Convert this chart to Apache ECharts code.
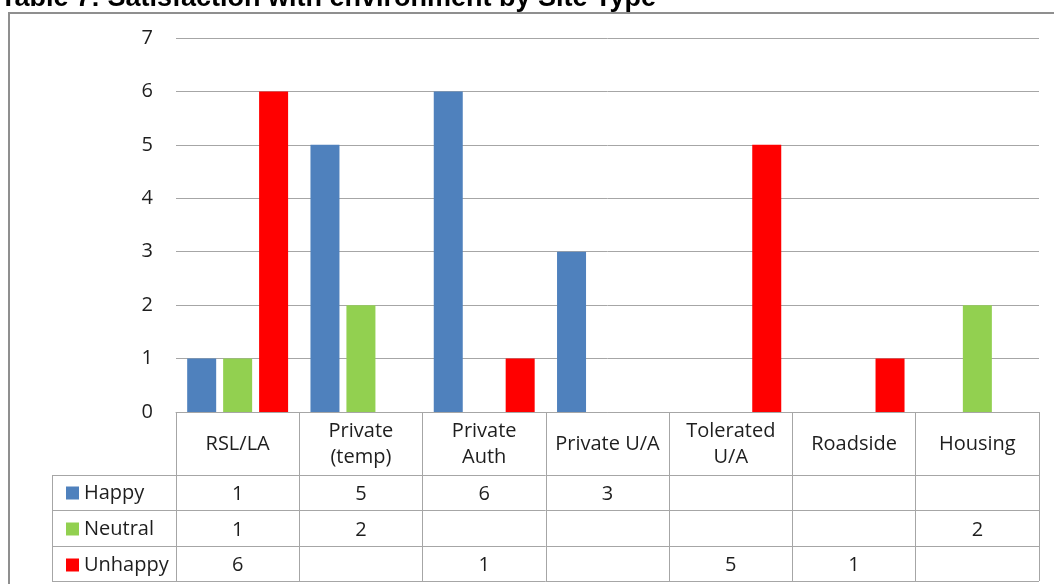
<!DOCTYPE html>
<html>
<head>
<meta charset="utf-8">
<script src="https://cdn.jsdelivr.net/npm/echarts@6/dist/echarts.min.js"></script>
<style>
  html, body { margin: 0; padding: 0; background: #fff; }
  #main { width: 1054px; height: 584px; }
</style>
</head>
<body>
<div id="main"></div>
<script>
// data
var siteTypes = ['RSL/LA', 'Private\n(temp)', 'Private\nAuth', 'Private U/A', 'Tolerated\nU/A', 'Roadside', 'Housing'];
var happy   = [1, 5, 6, 3, null, null, null];
var neutral = [1, 2, null, null, null, null, 2];
var unhappy = [6, null, 1, null, 5, 1, null];
var seriesNames = ['Happy', 'Neutral', 'Unhappy'];
var yTicks = [0, 1, 2, 3, 4, 5, 6, 7];

var font = '"Open Sans", "Noto Sans", sans-serif';
var textColor = '#1e1e1e';
var lineColor = '#a6a6a6';

// layout of the plot + data table
var gridLeft = 176, gridRight = 1039, gridTop = 38, axisY = 412;
var rowLines = [475, 510, 546, 581];   // horizontal table lines under the header
var tableLeft = 52;

var chartDom = document.getElementById('main');
var myChart = echarts.init(chartDom);
var option;

option = {
    animation: false,
    title: {
        text: 'Table 7: Satisfaction with environment by Site Type',
        left: 0,
        top: -15,
        padding: 0,
        textStyle: {
            fontFamily: 'Liberation Sans, Arial, sans-serif',
            fontWeight: 'bold',
            fontSize: 27,
            color: '#000'
        }
    },
    legend: {
        orient: 'vertical',
        left: 61,
        top: 478,
        itemWidth: 13,
        itemHeight: 13,
        itemGap: 16,
        icon: 'rect',
        selectedMode: false,
        data: seriesNames,
        textStyle: { fontFamily: font, fontSize: 20, color: textColor, lineHeight: 20, padding: [0, 0, 0, 0] }
    },
    grid: {
        left: gridLeft,
        right: 1054 - gridRight,
        top: gridTop,
        bottom: 584 - axisY,
        containLabel: false
    },
    xAxis: {
        type: 'category',
        data: siteTypes,
        axisLine: { show: true, lineStyle: { color: lineColor, width: 1 } },
        axisTick: {
            show: true,
            alignWithLabel: false,
            length: rowLines[rowLines.length - 1] - axisY,
            lineStyle: { color: lineColor, width: 1 }
        },
        axisLabel: {
            interval: 0,
            margin: 32,
            verticalAlign: 'middle',
            fontFamily: font,
            fontSize: 20,
            lineHeight: 26,
            color: textColor
        }
    },
    yAxis: {
        type: 'value',
        min: yTicks[0],
        max: yTicks[yTicks.length - 1],
        interval: 1,
        axisLine: { show: false },
        axisTick: { show: false },
        splitLine: { lineStyle: { color: lineColor, width: 1 } },
        axisLabel: { margin: 23, fontFamily: font, fontSize: 20, color: textColor }
    },
    series: [
        { name: seriesNames[0], type: 'bar', data: happy,   barWidth: 29, barGap: '24%', itemStyle: { color: '#4f81bd' } },
        { name: seriesNames[1], type: 'bar', data: neutral, barWidth: 29, barGap: '24%', itemStyle: { color: '#92d050' } },
        { name: seriesNames[2], type: 'bar', data: unhappy, barWidth: 29, barGap: '24%', itemStyle: { color: '#ff0000' } }
    ]
};

myChart.setOption(option);

// data table: lines + values under the bars, positioned from the category axis
var rows = [happy, neutral, unhappy];
var g = [];
// outer frame of the whole chart
g.push({ type: 'rect', shape: { x: 9, y: 13, width: 1200, height: 700 }, style: { fill: null, stroke: '#8f8f8f', lineWidth: 2 }, silent: true });
rowLines.forEach(function (y) {
    g.push({ type: 'line', shape: { x1: tableLeft, y1: y + 0.5, x2: gridRight, y2: y + 0.5 }, style: { stroke: lineColor, lineWidth: 1 }, silent: true });
});
g.push({ type: 'line', shape: { x1: tableLeft + 0.5, y1: rowLines[0], x2: tableLeft + 0.5, y2: rowLines[rowLines.length - 1] }, style: { stroke: lineColor, lineWidth: 1 }, silent: true });
rows.forEach(function (vals, r) {
    var cy = (rowLines[r] + rowLines[r + 1]) / 2 + 2;
    vals.forEach(function (v, i) {
        if (v == null) return;
        var cx = myChart.convertToPixel({ xAxisIndex: 0 }, i);
        g.push({
            type: 'text', x: cx, y: cy, silent: true,
            style: { text: String(v), align: 'center', verticalAlign: 'middle', font: '20px ' + font, fill: textColor }
        });
    });
});
myChart.setOption({ graphic: g });
</script>
</body>
</html>
